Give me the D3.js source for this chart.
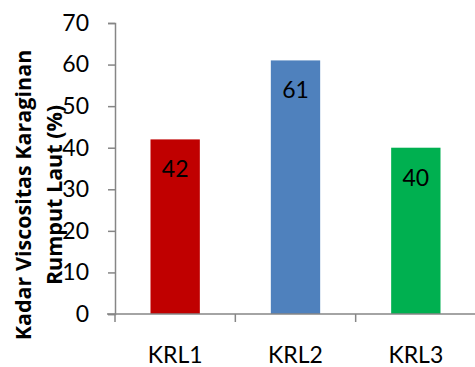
<!DOCTYPE html>
<html>
<head>
<meta charset="utf-8">
<script src="https://cdn.jsdelivr.net/npm/d3@7"></script>
<style>
  html, body { margin: 0; padding: 0; background: #fff; }
  svg text { font-family: Lato, "Open Sans", sans-serif; }
</style>
</head>
<body>
<svg id="chart" width="475" height="367"></svg>
<script>
// Viscosity of seaweed carrageenan per sample
const categories = ["KRL1", "KRL2", "KRL3"];
const values = [42, 61, 40];
const barColors = ["#C00000", "#4F81BD", "#00B050"];
const yTicks = [0, 10, 20, 30, 40, 50, 60, 70];
const yTitleLines = ["Kadar Viscositas Karaginan", "Rumput Laut (%)"];

const svg = d3.select("#chart");
const plotLeft = 115, plotRight = 476, plotTop = 23, plotBottom = 314;
const axisColor = "#868686";

const x = d3.scaleBand().domain(categories).range([plotLeft, plotRight]).paddingInner(0.59).paddingOuter(0.295);
const y = d3.scaleLinear().domain([0, 70]).range([plotBottom, plotTop]);

// bars
svg.selectAll("rect.bar").data(values).join("rect")
  .attr("class", "bar")
  .attr("x", (d, i) => x(categories[i]))
  .attr("width", x.bandwidth())
  .attr("y", d => y(d))
  .attr("height", d => y(0) - y(d))
  .attr("fill", (d, i) => barColors[i]);

// value labels inside bars
svg.selectAll("text.val").data(values).join("text")
  .attr("class", "val")
  .attr("x", (d, i) => x(categories[i]) + x.bandwidth() / 2)
  .attr("y", d => y(d) + 38)
  .attr("text-anchor", "middle")
  .attr("font-size", 23)
  .attr("fill", "#000")
  .text(d => d);

// y axis
const yAxis = svg.append("g").attr("transform", `translate(${plotLeft},0)`)
  .call(d3.axisLeft(y).tickValues(yTicks).tickSize(7).tickPadding(19));
yAxis.select(".domain").attr("stroke", axisColor).attr("stroke-width", 1.5);
yAxis.selectAll(".tick line").attr("stroke", axisColor).attr("stroke-width", 1.5);
yAxis.selectAll(".tick text").attr("font-size", 23).attr("fill", "#000");

// x axis with ticks between categories
const xAxisG = svg.append("g");
xAxisG.append("line")
  .attr("x1", plotLeft - 8).attr("x2", plotRight).attr("y1", plotBottom).attr("y2", plotBottom)
  .attr("stroke", axisColor).attr("stroke-width", 1.5);
const step = x.step();
const bounds = d3.range(categories.length + 1).map(i => plotLeft + i * step);
xAxisG.selectAll("line.xt").data(bounds).join("line")
  .attr("class", "xt")
  .attr("x1", d => d).attr("x2", d => d)
  .attr("y1", plotBottom).attr("y2", plotBottom + 8)
  .attr("stroke", axisColor).attr("stroke-width", 1.5);
xAxisG.selectAll("text.cat").data(categories).join("text")
  .attr("class", "cat")
  .attr("x", d => x(d) + x.bandwidth() / 2)
  .attr("y", 363)
  .attr("text-anchor", "middle")
  .attr("font-size", 23)
  .attr("fill", "#000")
  .text(d => d);

// y axis title (two lines, rotated)
const titleG = svg.append("g").attr("transform", "translate(0,195) rotate(-90)");
titleG.selectAll("text").data(yTitleLines).join("text")
  .attr("x", 0)
  .attr("y", (d, i) => 31 + i * 31)
  .attr("text-anchor", "middle")
  .attr("fill", "#000")
  .style("font-family", "'Open Sans', sans-serif")
  .style("font-size", "21.5px")
  .style("font-weight", "700")
  .text(d => d);
</script>
</body>
</html>
